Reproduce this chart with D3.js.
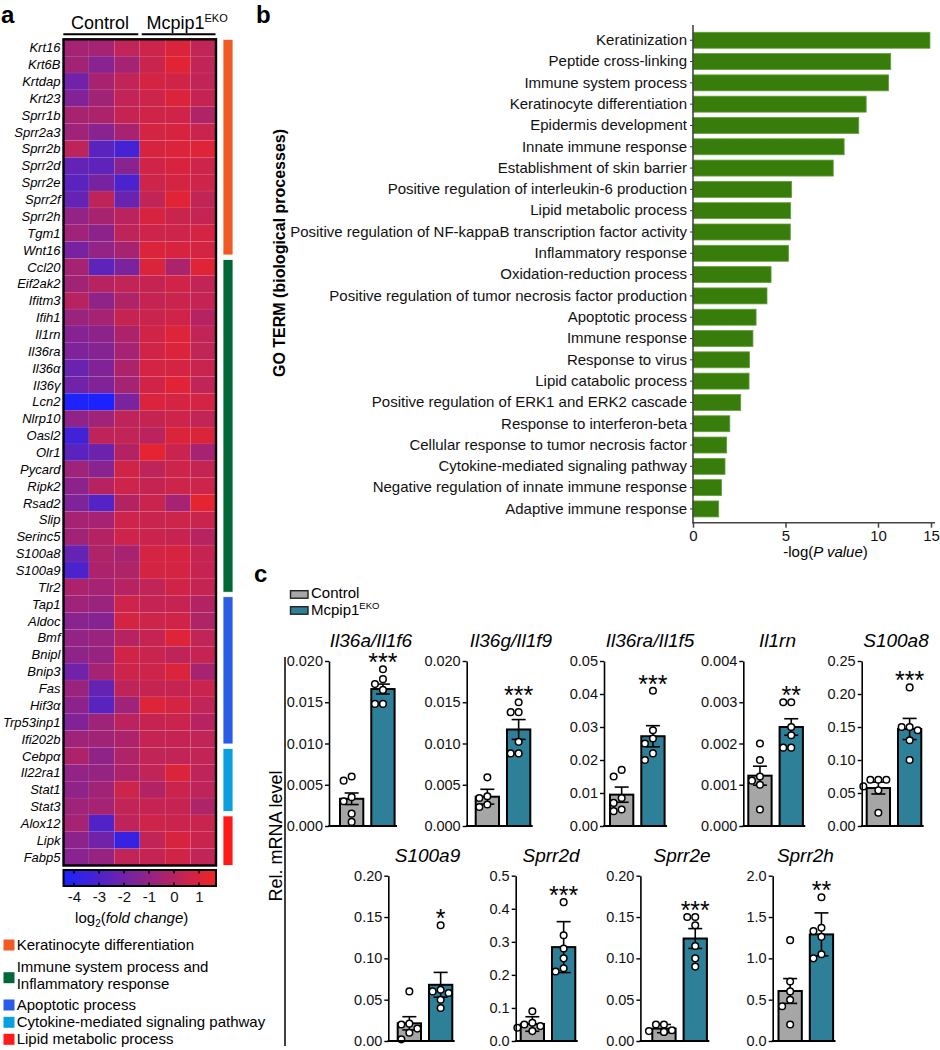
<!DOCTYPE html>
<html>
<head>
<meta charset="utf-8">
<script src="https://cdnjs.cloudflare.com/ajax/libs/d3/7.8.5/d3.min.js"></script>
<style>
  body { margin: 0; background: #fff; }
  svg { display: block; font-family: "Liberation Sans", Arial, Helvetica, sans-serif; }
</style>
</head>
<body>
<svg width="940" height="1050"></svg>
<script>
// ---------- panel a data ----------
var genes = ['Krt16', 'Krt6B', 'Krtdap', 'Krt23', 'Sprr1b', 'Sprr2a3', 'Sprr2b', 'Sprr2d', 'Sprr2e', 'Sprr2f', 'Sprr2h', 'Tgm1', 'Wnt16',
  'Ccl20', 'Eif2ak2', 'Ifitm3', 'Ifih1', 'Il1rn', 'Il36ra', 'Il36α', 'Il36γ', 'Lcn2', 'Nlrp10', 'Oasl2', 'Olr1', 'Pycard', 'Ripk2', 'Rsad2', 'Slip', 'Serinc5', 'S100a8', 'S100a9', 'Tlr2',
  'Tap1', 'Aldoc', 'Bmf', 'Bnipl', 'Bnip3', 'Fas', 'Hif3α', 'Trp53inp1', 'Ifi202b',
  'Cebpα', 'Il22ra1', 'Stat1', 'Stat3',
  'Alox12', 'Lipk', 'Fabp5'];
var samples = ['C1', 'C2', 'C3', 'K1', 'K2', 'K3'];
var heatValues = [
  [-0.5, -0.5, 0.3, 0.6, 1.0, 0.3],
  [-0.6, -1.3, -0.5, 0.5, 1.2, 0.3],
  [-2.0, -0.4, 0.3, 0.8, 0.7, 0.3],
  [-1.5, -0.6, 0.3, 0.6, 1.0, 0.4],
  [-0.4, -0.3, 0.4, 0.7, 0.7, -0.2],
  [-0.7, -1.3, -0.4, 0.8, 0.9, 0.5],
  [0.2, -2.6, -3.2, 0.9, 1.0, 1.1],
  [-2.4, -2.5, -1.3, 0.7, 0.9, 0.6],
  [-2.6, -1.8, -3.0, 0.6, 0.8, 0.6],
  [-2.3, 0.2, -2.2, 0.3, 1.2, 0.3],
  [-1.0, -0.4, 0.1, 0.9, 0.5, 0.4],
  [-0.7, -1.2, 0.2, 0.6, 0.6, 0.8],
  [-1.8, -1.0, -0.4, 1.0, 0.9, 0.8],
  [-0.5, -2.5, -1.7, 1.0, -0.3, 1.2],
  [-0.6, 0.0, 0.3, 0.4, 0.7, 0.3],
  [0.0, -1.1, -0.2, 0.4, 0.5, 0.4],
  [-0.8, -0.5, 0.4, 0.5, 0.7, 0.0],
  [-1.4, -1.2, -0.3, 0.7, 1.1, 0.3],
  [-1.6, -1.4, -0.5, 0.7, 1.0, 0.3],
  [-2.2, -1.5, -0.3, 0.8, 0.8, 0.5],
  [-2.0, -1.5, -0.5, 0.7, 1.2, 0.3],
  [-4.3, -4.4, -1.7, 1.0, 0.8, 0.8],
  [-1.1, -0.7, 0.2, 0.4, 0.6, 0.3],
  [-3.3, 0.2, 0.3, 0.1, 1.0, 1.0],
  [-2.6, -2.1, -0.1, 1.3, 0.5, -0.5],
  [-0.7, -1.3, 0.7, 0.2, 0.6, 0.4],
  [-1.2, 0.0, 0.6, 0.4, 0.6, 0.6],
  [-1.6, -2.8, -0.1, 0.5, -0.5, 1.3],
  [-0.5, -0.5, 0.6, 0.5, 0.6, 0.5],
  [-0.6, -0.1, 0.6, 0.5, 0.4, 0.0],
  [-2.3, -0.2, -0.4, 0.8, 0.9, 0.4],
  [-3.0, -0.3, -0.2, 0.8, 0.8, 0.4],
  [-0.3, -0.5, 0.0, 0.3, 0.7, 0.4],
  [-0.7, -0.8, 0.6, 0.4, 0.4, -0.1],
  [-1.3, -1.4, 0.8, 0.6, 0.7, -0.2],
  [-1.0, -0.8, 0.0, 0.4, 1.1, 0.3],
  [-1.1, -0.9, 0.7, 0.5, 0.2, 0.4],
  [-2.0, -0.5, 0.6, 0.6, 1.0, -0.4],
  [-0.8, -2.3, 0.2, 0.4, 0.4, 0.5],
  [-1.2, -2.6, -0.7, 1.1, 0.8, 0.3],
  [-1.5, -0.7, 0.1, 0.4, 0.5, 0.0],
  [-0.7, -0.6, -0.3, 0.4, 0.4, 0.3],
  [-0.3, -1.1, -0.2, 0.3, 0.3, 0.3],
  [-1.0, -0.9, -0.3, 0.3, 1.0, 0.2],
  [-1.1, -0.6, 0.6, -0.1, 0.5, 0.2],
  [-0.7, -0.5, 0.3, 0.4, 0.4, -0.2],
  [-0.5, -2.9, 0.2, 0.6, 0.5, 0.5],
  [-1.2, -2.0, -3.6, 0.3, 0.9, 0.5],
  [-1.3, -0.9, 0.3, 0.4, 0.7, 0.3]
];
var groupNames = ['Keratinocyte differentiation', 'Immune system process and|Inflammatory response',
  'Apoptotic process', 'Cytokine-mediated signaling pathway', 'Lipid metabolic process'];
var groupSizes = [13, 20, 9, 4, 3];
var colorTicks = [-4, -3, -2, -1, 0, 1];

// ---------- panel b data ----------
var goTerms = ['Keratinization', 'Peptide cross-linking', 'Immune system process', 'Keratinocyte differentiation',
  'Epidermis development', 'Innate immune response', 'Establishment of skin barrier',
  'Positive regulation of interleukin-6 production', 'Lipid metabolic process',
  'Positive regulation of NF-kappaB transcription factor activity', 'Inflammatory response',
  'Oxidation-reduction process', 'Positive regulation of tumor necrosis factor production',
  'Apoptotic process', 'Immune response', 'Response to virus', 'Lipid catabolic process',
  'Positive regulation of ERK1 and ERK2 cascade', 'Response to interferon-beta',
  'Cellular response to tumor necrosis factor', 'Cytokine-mediated signaling pathway',
  'Negative regulation of innate immune response', 'Adaptive immune response'];
var goValues = [14.9, 11.2, 11.0, 9.36, 8.96, 8.17, 7.58, 5.33, 5.28, 5.26, 5.16, 4.22, 4.0,
  3.41, 3.24, 3.05, 3.03, 2.58, 1.99, 1.82, 1.73, 1.54, 1.39];
var goTicks = [0, 5, 10, 15];

// ---------- panel c data ----------
var qGenes = ['Il36a/Il1f6', 'Il36g/Il1f9', 'Il36ra/Il1f5', 'Il1rn', 'S100a8', 'S100a9', 'Sprr2d', 'Sprr2e', 'Sprr2h'];
var ctrlMean = [0.0033, 0.00355, 0.0095, 0.00122, 0.0575, 0.0214, 0.0514, 0.015, 0.605];
var ctrlSem = [0.0007, 0.0009, 0.0023, 0.00023, 0.009, 0.008, 0.022, 0.005, 0.15];
var ekoMean = [0.0166, 0.0117, 0.0272, 0.0024, 0.147, 0.068, 0.284, 0.124, 1.29];
var ekoSem = [0.0006, 0.0012, 0.0032, 0.0002, 0.016, 0.015, 0.077, 0.012, 0.26];
var ctrlPoints = [
  [0.006, 0.0055, 0.0035, 0.003, 0.0015, 0.0005],
  [0.0059, 0.0036, 0.0034, 0.0026, 0.0023],
  [0.017, 0.015, 0.0085, 0.007, 0.005, 0.0045],
  [0.002, 0.0016, 0.0012, 0.0011, 0.001, 0.0004],
  [0.07, 0.07, 0.07, 0.06, 0.054, 0.02],
  [0.06, 0.021, 0.02, 0.015, 0.01, 0.002],
  [0.09, 0.055, 0.05, 0.045, 0.04, 0.03],
  [0.02, 0.02, 0.013, 0.012, 0.011, 0.011],
  [1.22, 0.72, 0.6, 0.5, 0.42, 0.2]
];
var ekoPoints = [
  [0.019, 0.0178, 0.0172, 0.0165, 0.0148, 0.0148],
  [0.015, 0.0138, 0.0138, 0.0102, 0.0088, 0.0088],
  [0.041, 0.029, 0.0265, 0.025, 0.022, 0.02],
  [0.003, 0.003, 0.0024, 0.0022, 0.0019, 0.0019],
  [0.21, 0.15, 0.15, 0.145, 0.13, 0.1],
  [0.14, 0.062, 0.06, 0.058, 0.05, 0.04],
  [0.42, 0.32, 0.28, 0.25, 0.22, 0.21],
  [0.15, 0.15, 0.14, 0.115, 0.1, 0.09],
  [1.74, 1.37, 1.33, 1.26, 1.05, 1.0]
];
var qTicks = [
  [0, 0.005, 0.01, 0.015, 0.02],
  [0, 0.005, 0.01, 0.015, 0.02],
  [0, 0.01, 0.02, 0.03, 0.04, 0.05],
  [0, 0.001, 0.002, 0.003, 0.004],
  [0, 0.05, 0.1, 0.15, 0.2, 0.25],
  [0, 0.05, 0.1, 0.15, 0.2],
  [0, 0.1, 0.2, 0.3, 0.4, 0.5],
  [0, 0.05, 0.1, 0.15, 0.2],
  [0, 0.5, 1, 1.5, 2]
];
var qFormats = ['.3f', '.3f', '.2f', '.3f', '.2f', '.2f', '.1f', '.2f', '.1f'];
var qStars = ['***', '***', '***', '**', '***', '*', '***', '***', '**'];

// layout of the small qPCR plots (row, y-axis x, first bar x, title centre)
var qLayout = [
  {row: 0, axis: 329, bar: 340, title: 371},
  {row: 0, axis: 466.7, bar: 475.7, title: 511},
  {row: 0, axis: 604, bar: 610, title: 650},
  {row: 0, axis: 743.3, bar: 748.3, title: 777.5},
  {row: 0, axis: 861.7, bar: 866.7, title: 896},
  {row: 1, axis: 388.3, bar: 397.7, title: 427.5},
  {row: 1, axis: 515.7, bar: 520.7, title: 551},
  {row: 1, axis: 640.4, bar: 652.3, title: 682},
  {row: 1, axis: 772.7, bar: 778.5, title: 805.4}
];

var groupColors = ['#f15a24', '#006837', '#2b5ce6', '#0aa0e0', '#ff1a1a'];
var svg = d3.select('svg');

// ================= panel a : heatmap =================
var hx = d3.scaleBand().domain(samples).range([63.5, 216]);
var hy = d3.scaleBand().domain(genes).range([39.3, 865.5]);
var heatColor = d3.scaleLinear().domain([-4.42, 1.68]).range(['#1a22ff', '#f22424']).clamp(true);

svg.append('text').attr('x', 1).attr('y', 23).attr('font-size', 24).attr('font-weight', 'bold').text('a');

svg.append('text').attr('x', 100).attr('y', 29.3).attr('text-anchor', 'middle').attr('font-size', 18).text('Control');
var mc = svg.append('text').attr('x', 146.5).attr('y', 29.3).attr('font-size', 18);
mc.append('tspan').text('Mcpip1');
mc.append('tspan').attr('dy', -7).attr('font-size', 11).text('EKO');
svg.append('line').attr('x1', 63.3).attr('x2', 138.3).attr('y1', 34.3).attr('y2', 34.3).attr('stroke', '#000').attr('stroke-width', 2);
svg.append('line').attr('x1', 141.7).attr('x2', 215.5).attr('y1', 34.3).attr('y2', 34.3).attr('stroke', '#000').attr('stroke-width', 2);

var rows = svg.append('g').selectAll('g').data(genes).enter().append('g');
rows.selectAll('rect')
  .data(function(g, i) { return heatValues[i].map(function(v, j) { return {gene: g, s: samples[j], v: v}; }); })
  .enter().append('rect')
    .attr('x', d => hx(d.s))
    .attr('y', d => hy(d.gene))
    .attr('width', hx.bandwidth())
    .attr('height', hy.bandwidth())
    .attr('fill', d => heatColor(d.v))
    .attr('stroke', 'rgba(255,255,255,0.08)')
    .attr('stroke-width', 0.6);

svg.append('rect').attr('x', 63.5).attr('y', 39.3).attr('width', 216 - 63.5).attr('height', 865.5 - 39.3)
  .attr('fill', 'none').attr('stroke', '#000').attr('stroke-width', 2.4);

svg.append('g').selectAll('text').data(genes).enter().append('text')
  .attr('x', 60.5)
  .attr('y', d => hy(d) + hy.bandwidth() / 2 + 4.6)
  .attr('text-anchor', 'end')
  .attr('font-size', 13)
  .attr('font-style', 'italic')
  .text(d => d);

// category side bars
var start = 0;
groupSizes.forEach(function(n, i) {
  var y0 = hy(genes[start]) + (i === 0 ? 0 : 1);
  var last = genes[start + n - 1];
  var y1 = hy(last) + hy.bandwidth() - (i === groupSizes.length - 1 ? 0 : 3.5);
  svg.append('rect').attr('x', 223).attr('y', y0).attr('width', 10).attr('height', y1 - y0)
    .attr('fill', groupColors[i]).attr('stroke', '#fff').attr('stroke-width', 0.8);
  start += n;
});

// colour bar
var cbx = d3.scaleLinear().domain([-4.42, 1.68]).range([63.5, 216]);
var grad = svg.append('defs').append('linearGradient').attr('id', 'cb');
d3.range(0, 1.0001, 0.1).forEach(function(t) {
  grad.append('stop').attr('offset', t).attr('stop-color', heatColor(cbx.invert(63.5 + t * (216 - 63.5))));
});
svg.append('rect').attr('x', 63.5).attr('y', 870).attr('width', 216 - 63.5).attr('height', 16)
  .attr('fill', 'url(#cb)').attr('stroke', '#000').attr('stroke-width', 2);
colorTicks.forEach(function(v) {
  svg.append('line').attr('x1', cbx(v)).attr('x2', cbx(v)).attr('y1', 870).attr('y2', 873.5).attr('stroke', '#000').attr('stroke-width', 1.5);
  svg.append('line').attr('x1', cbx(v)).attr('x2', cbx(v)).attr('y1', 882.5).attr('y2', 886).attr('stroke', '#000').attr('stroke-width', 1.5);
});
var cbAxis = svg.append('g').attr('transform', 'translate(0,886)')
  .call(d3.axisBottom(cbx).tickValues(colorTicks).tickSize(0).tickPadding(5).tickFormat(d => (d < 0 ? '-' + Math.abs(d) : d)));
cbAxis.select('.domain').remove();
cbAxis.selectAll('text').attr('font-size', 15).attr('fill', '#111').attr('font-family', null);

var lg = svg.append('text').attr('x', 131.7).attr('y', 923).attr('text-anchor', 'middle').attr('font-size', 15);
lg.append('tspan').text('log');
lg.append('tspan').attr('font-size', 10).attr('dy', 4).text('2');
lg.append('tspan').attr('dy', -4).text('(');
lg.append('tspan').attr('font-style', 'italic').text('fold change');
lg.append('tspan').text(')');

// legend
var legendBase = [950, 971.7, 1010, 1027.3, 1044.3];
groupNames.forEach(function(name, i) {
  var lines = name.split('|');
  var sq = lines.length > 1 ? legendBase[i] + 0.5 : legendBase[i] - 10.5;
  svg.append('rect').attr('x', 3.5).attr('y', sq).attr('width', 11).attr('height', 11).attr('fill', groupColors[i]);
  lines.forEach(function(l, k) {
    svg.append('text').attr('x', 16.7).attr('y', legendBase[i] + k * 17.6).attr('font-size', 15).text(l);
  });
});

// ================= panel b : GO bars =================
var bx = d3.scaleLinear().domain([0, 10, 15]).range([693, 878, 931]);
var by = d3.scaleBand().domain(goTerms).range([29.6, 519.6]).paddingInner(0.25).paddingOuter(0.125);

svg.append('text').attr('x', 256).attr('y', 22.7).attr('font-size', 24).attr('font-weight', 'bold').text('b');

svg.append('g').selectAll('rect').data(goTerms).enter().append('rect')
  .attr('x', bx(0))
  .attr('y', d => by(d))
  .attr('width', (d, i) => bx(goValues[i]) - bx(0))
  .attr('height', by.bandwidth())
  .attr('fill', '#387d0b')
  .attr('stroke', '#62a13a')
  .attr('stroke-width', 0.8);

var byAxis = svg.append('g').attr('transform', 'translate(693,0)')
  .call(d3.axisLeft(by).tickSize(3).tickPadding(3));
byAxis.select('.domain').remove();
byAxis.selectAll('text').attr('font-size', 15).attr('fill', '#111').attr('font-family', null);
byAxis.selectAll('line').attr('stroke', '#333');

var bxAxis = svg.append('g').attr('transform', 'translate(0,522.7)')
  .call(d3.axisBottom(bx).tickValues(goTicks).tickSize(5).tickPadding(3));
bxAxis.select('.domain').remove();
bxAxis.selectAll('text').attr('font-size', 15).attr('fill', '#111').attr('font-family', null);
bxAxis.selectAll('line').attr('stroke', '#444').attr('stroke-width', 1.5);

svg.append('line').attr('x1', 693).attr('x2', 693).attr('y1', 25).attr('y2', 523.5).attr('stroke', '#444').attr('stroke-width', 1.6);
svg.append('line').attr('x1', 692.2).attr('x2', 935).attr('y1', 522.7).attr('y2', 522.7).attr('stroke', '#444').attr('stroke-width', 1.6);

svg.append('text').attr('transform', 'translate(285,253) rotate(-90)').attr('text-anchor', 'middle')
  .attr('font-size', 16).attr('font-weight', 'bold').text('GO TERM (biological processes)');

var xl = svg.append('text').attr('x', 825.5).attr('y', 557).attr('text-anchor', 'middle').attr('font-size', 15);
xl.append('tspan').text('-log(');
xl.append('tspan').attr('font-style', 'italic').text('P value');
xl.append('tspan').text(')');

// ================= panel c : qPCR =================
var ctrlFill = '#a6a6a6', ekoFill = '#2e7f98';
svg.append('text').attr('x', 254).attr('y', 582).attr('font-size', 24).attr('font-weight', 'bold').text('c');

[['Control', ctrlFill, 590.7, 597.7], ['Mcpip1', ekoFill, 606.7, 614.3]].forEach(function(l) {
  svg.append('rect').attr('x', 290.5).attr('y', l[2]).attr('width', 17.5).attr('height', 7.5)
    .attr('fill', l[1]).attr('stroke', '#222').attr('stroke-width', 1.4);
  var t = svg.append('text').attr('x', 311).attr('y', l[3] + 0.5).attr('font-size', 15).text(l[0]);
  if (l[0] === 'Mcpip1') t.append('tspan').attr('dy', -6).attr('font-size', 9.5).text('EKO');
});

svg.append('line').attr('x1', 285).attr('x2', 285).attr('y1', 657).attr('y2', 1046).attr('stroke', '#000').attr('stroke-width', 1.5);
svg.append('text').attr('transform', 'translate(281.5,836) rotate(-90)').attr('text-anchor', 'middle')
  .attr('font-size', 18).text('Rel. mRNA level');

var rowTop = [661, 875.7], rowBase = [826, 1041];

qGenes.forEach(function(gene, i) {
  var L = qLayout[i];
  var ticks = qTicks[i];
  var y = d3.scaleLinear().domain([0, ticks[ticks.length - 1]]).range([rowBase[L.row], rowTop[L.row]]);
  var x = d3.scaleBand().domain(['Control', 'EKO']).range([L.bar, L.bar + 54.6]).paddingInner(0.255);
  var g = svg.append('g');

  g.append('text').attr('x', L.title).attr('y', rowTop[L.row] - 14).attr('text-anchor', 'middle')
    .attr('font-size', 19).attr('font-style', 'italic').text(gene);

  var groups = [
    {k: 'Control', mean: ctrlMean[i], sem: ctrlSem[i], pts: ctrlPoints[i], fill: ctrlFill},
    {k: 'EKO', mean: ekoMean[i], sem: ekoSem[i], pts: ekoPoints[i], fill: ekoFill}
  ];

  g.selectAll('rect.bar').data(groups).enter().append('rect').attr('class', 'bar')
    .attr('x', d => x(d.k))
    .attr('y', d => y(d.mean))
    .attr('width', x.bandwidth())
    .attr('height', d => y(0) - y(d.mean))
    .attr('fill', d => d.fill)
    .attr('stroke', '#000')
    .attr('stroke-width', 2);

  groups.forEach(function(d) {
    var cx = x(d.k) + x.bandwidth() / 2;
    // error bar (mean +/- SEM)
    g.append('line').attr('x1', cx).attr('x2', cx).attr('y1', y(d.mean - d.sem)).attr('y2', y(d.mean + d.sem))
      .attr('stroke', '#000').attr('stroke-width', 1.6);
    [d.mean - d.sem, d.mean + d.sem].forEach(function(v) {
      g.append('line').attr('x1', cx - 7).attr('x2', cx + 7).attr('y1', y(v)).attr('y2', y(v))
        .attr('stroke', '#000').attr('stroke-width', 1.6);
    });
    // dodge overlapping points sideways
    var placed = [];
    d.pts.slice().sort((a, b) => b - a).forEach(function(v) {
      var py = y(v);
      var offs = [0, -8, 8, -15, 15];
      var ox = offs.find(function(o) {
        return placed.every(p => Math.hypot(p[0] - (cx + o), p[1] - py) >= 7.5);
      });
      if (ox === undefined) ox = 0;
      placed.push([cx + ox, py]);
    });
    g.selectAll(null).data(placed).enter().append('circle')
      .attr('cx', p => p[0]).attr('cy', p => p[1]).attr('r', 3.3)
      .attr('fill', '#fff').attr('stroke', '#000').attr('stroke-width', 1.5);
    if (d.k === 'EKO') {
      g.append('text').attr('x', cx).attr('y', y(d3.max(d.pts)) + 2).attr('text-anchor', 'middle')
        .attr('font-size', 25).text(qStars[i]);
    }
  });

  var ax = g.append('g').attr('transform', 'translate(' + L.axis + ',0)')
    .call(d3.axisLeft(y).tickValues(ticks).tickFormat(d3.format(qFormats[i])).tickSize(4).tickPadding(2).tickSizeOuter(0));
  ax.select('.domain').attr('stroke-width', 1.6);
  ax.selectAll('line').attr('stroke-width', 1.4);
  ax.selectAll('text').attr('font-size', 14.5).attr('fill', '#111').attr('font-family', null);
  g.append('line').attr('x1', L.axis - 0.8).attr('x2', L.bar + 57).attr('y1', y(0)).attr('y2', y(0))
    .attr('stroke', '#000').attr('stroke-width', 2);
});
</script>
</body>
</html>
